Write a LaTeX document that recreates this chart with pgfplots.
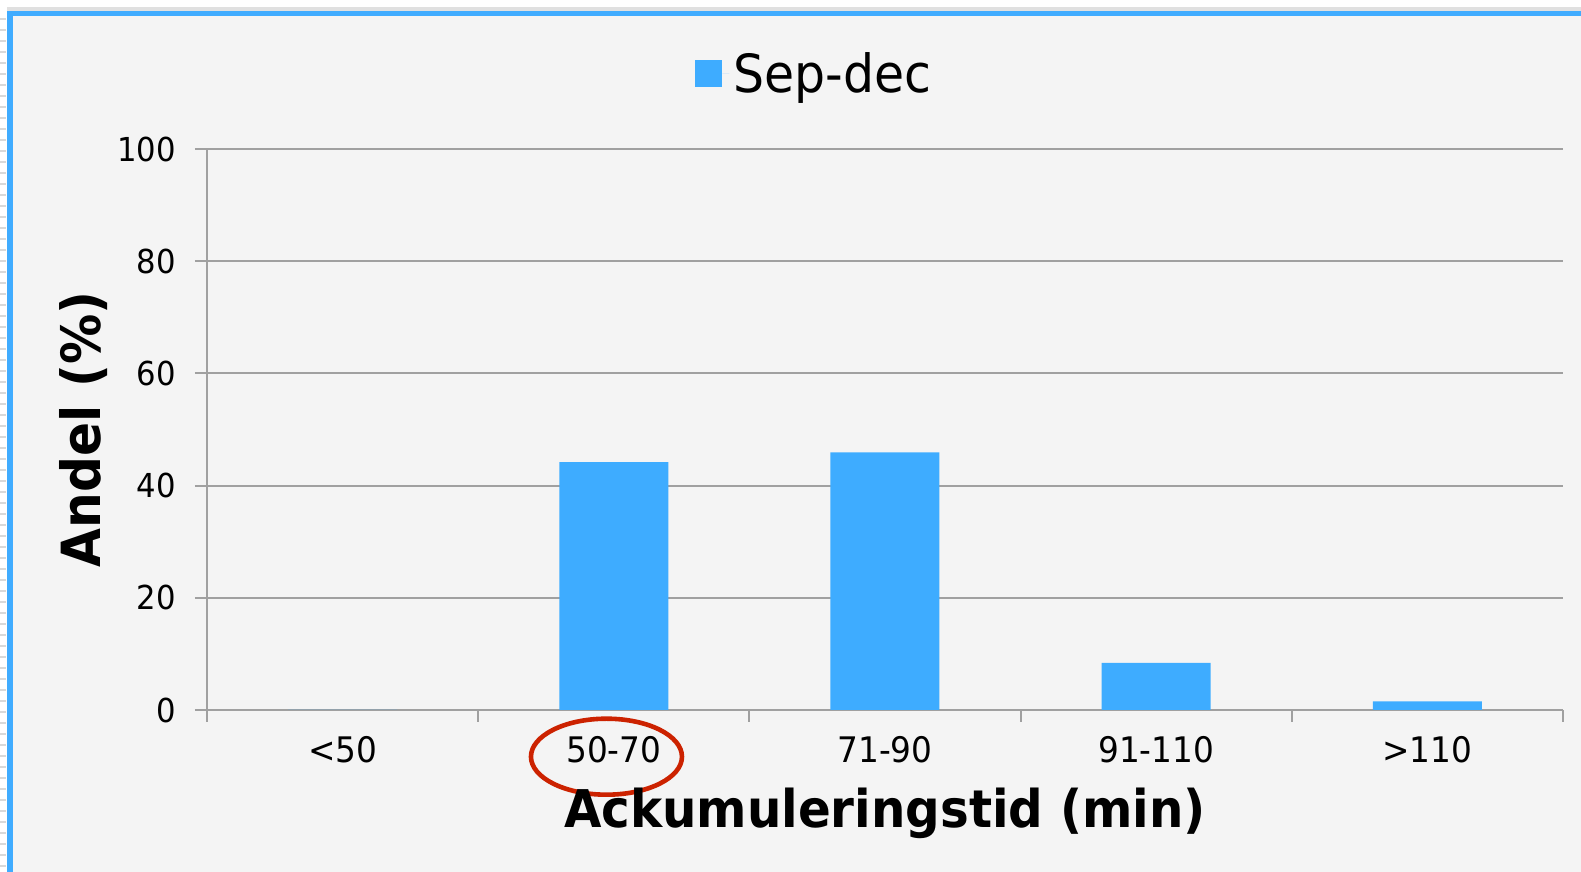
\documentclass[border=0pt]{standalone}
\usepackage{fontspec}
\setmainfont{DejaVu Sans}[FakeStretch=0.93]
\usepackage{pgfplots}
\pgfplotsset{compat=1.18}
\definecolor{barblue}{RGB}{62,172,255}
\definecolor{bordblue}{RGB}{64,172,255}
\definecolor{panel}{RGB}{244,244,244}
\definecolor{gridgray}{RGB}{160,160,160}
\definecolor{circred}{RGB}{204,34,0}
\begin{document}
\begin{tikzpicture}
% page frame (picture is 790.5pt x 436pt; plot box at origin)
\fill[white] (-103.5pt,-81pt) rectangle (687pt,355pt);
\foreach \k in {0,...,77} {
  \draw[black!15, line width=0.6pt] ({-103.5pt},{345.5pt-\k*5.5pt}) -- ({-100.5pt},{345.5pt-\k*5.5pt});
}
\fill[black!12] (-100pt,351.5pt) rectangle (687pt,349.5pt);
\fill[bordblue] (-100pt,349.5pt) rectangle (687pt,347pt);
\fill[bordblue] (-100pt,-81pt) rectangle (-97.15pt,349.5pt);
\fill[panel] (-97.15pt,-81pt) rectangle (687pt,347pt);
\begin{axis}[
  scale only axis, width=678pt, height=280.5pt,
  at={(0,0)}, anchor=south west,
  xmin=-0.5, xmax=4.5, ymin=0, ymax=100,
  ybar, bar width=54.5pt, clip=false,
  axis x line=bottom, axis y line=left,
  axis line style={gridgray, line width=1pt, -},
  xtick={-0.5,0.5,1.5,2.5,3.5,4.5},
  xticklabels={},
  extra x ticks={0,1,2,3,4},
  extra x tick labels={<50,50-70,71-90,91-110,>110},
  extra x tick style={major tick length=0pt, tick style={draw=none}},
  ytick={0,20,40,60,80,100},
  ymajorgrids, grid style={gridgray, line width=1pt},
  tick style={gridgray, line width=1pt},
  tick align=outside, major tick length=6pt,
  /pgf/number format/assume math mode=true,
  ticklabel style={font=\fontsize{16.5}{19}\selectfont, text=black},
  xticklabel style={anchor=base, yshift=-26.5pt, font=\fontsize{17.6}{20}\selectfont},
  yticklabel style={anchor=east, xshift=-6pt},
  every axis x label/.style={at={(axis description cs:0.5,-0.2103)}, anchor=base},
  every axis y label/.style={at={(axis description cs:-0.0914,0.5)}, anchor=center, rotate=90},
  xlabel={Ackumuleringstid (min)},
  ylabel={Andel (\%)},
  xlabel style={font=\bfseries\fontsize{26}{31}\selectfont},
  ylabel style={font=\bfseries\fontsize{27}{32}\selectfont},
  legend style={at={(axis description cs:0.3599,1.1337)}, anchor=west, draw=none, fill=none,
    font=\fontsize{26.3}{31}\selectfont, inner sep=0pt},
  legend image code/.code={\fill[barblue] (0pt,-6.75pt) rectangle (13.5pt,6.75pt); \path (13.5pt,0pt) -- (17pt,0pt);},
]
\addplot[fill=barblue, draw=none] coordinates {(0,0) (1,44.2) (2,45.9) (3,8.4) (4,1.55)};
\addlegendentry{Sep-dec}
\draw[circred, line width=2.3pt] ([yshift=-23.35pt]axis cs:0.973,0) ellipse [x radius=37.75pt, y radius=19pt];
\end{axis}
\pgfresetboundingbox
\useasboundingbox (-103.5pt,-81pt) rectangle (687pt,355pt);
\end{tikzpicture}
\end{document}
